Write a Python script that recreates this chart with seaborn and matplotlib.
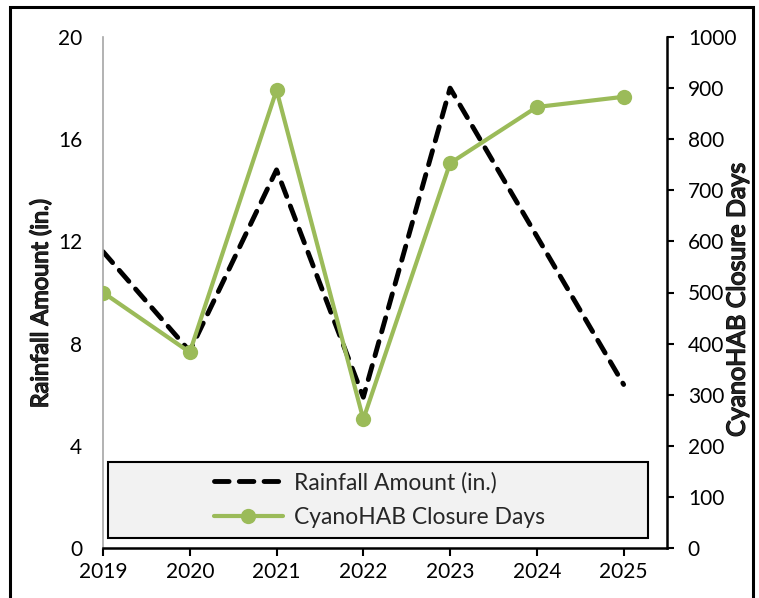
import matplotlib
matplotlib.use("Agg")
import matplotlib.pyplot as plt
import matplotlib.patheffects as pe
from matplotlib.patches import Rectangle
import seaborn as sns
import pandas as pd

# Annual values
years = [2019, 2020, 2021, 2022, 2023, 2024, 2025]
rainfall_in = [11.6, 7.7, 14.8, 5.9, 18.0, 12.2, 6.4]
closure_days = [500, 383, 896, 252, 753, 863, 883]

left_ticks = [0, 4, 8, 12, 16, 20]
right_ticks = list(range(0, 1001, 100))

rain_label = "Rainfall Amount (in.)"
days_label = "CyanoHAB Closure Days"

df = pd.DataFrame({"year": years, "rain": rainfall_in, "days": closure_days})

sns.set_style("white")
plt.rcParams["font.family"] = ["Lato", "DejaVu Sans"]

GREEN = "#9BBB59"
# thicken the axis titles with an outline stroke
heavy = [pe.withStroke(linewidth=1.0, foreground="black")]

fig = plt.figure(figsize=(7.59, 5.98), dpi=100)
ax = fig.add_axes([103 / 759, 1 - 548 / 598, 564 / 759, 511 / 598])
ax2 = ax.twinx()

sns.lineplot(data=df, x="year", y="rain", ax=ax, color="black", linewidth=3.5,
             linestyle=(0, (3.0, 2.1)), dash_capstyle="round", label=rain_label,
             legend=False)
sns.lineplot(data=df, x="year", y="days", ax=ax2, color=GREEN, linewidth=3.0,
             marker="o", markersize=11, markeredgewidth=0, label=days_label,
             legend=False)

ax.set_xlim(2019, 2025.5)
ax.set_ylim(0, 20)
ax2.set_ylim(0, 1000)
ax.set_xticks(years)
ax.set_xticklabels([str(y) for y in years])
ax.set_yticks(left_ticks)
ax2.set_yticks(right_ticks)

# Spines
for s in ["top", "right"]:
    ax.spines[s].set_visible(False)
ax.spines["left"].set_color("#a6a6a6")
ax.spines["left"].set_linewidth(1.2)
ax.spines["bottom"].set_color("black")
ax.spines["bottom"].set_linewidth(1.8)
for s in ["top", "left", "bottom"]:
    ax2.spines[s].set_visible(False)
ax2.spines["right"].set_color("black")
ax2.spines["right"].set_linewidth(1.8)

ax.tick_params(axis="y", length=0, pad=15, labelsize=15, colors="black")
ax.tick_params(axis="x", direction="out", length=6, width=1.5, pad=4,
               labelsize=15, colors="black", bottom=True)
ax2.tick_params(axis="y", direction="out", length=5, width=1.5, pad=10,
                labelsize=15, colors="black", right=True)

ax.set_xlabel("")
ylab_l = ax.set_ylabel(rain_label, fontsize=17)
ylab_r = ax2.set_ylabel(days_label, fontsize=18, rotation=90)
ylab_l.set_path_effects(heavy)
ylab_r.set_path_effects(heavy)
ax.yaxis.set_label_coords(-0.091, 0.478)
ax2.yaxis.set_label_coords(1.104, 0.485)

ax.grid(False)
ax2.grid(False)

# Legend panel
rx0, ry0, rw, rh = 0.009, 0.02, 0.957, 0.148
ax2.add_patch(Rectangle((rx0, ry0), rw, rh, transform=ax2.transAxes,
                        facecolor="#f2f2f2", edgecolor="black", linewidth=1.5,
                        zorder=5))
h1, l1 = ax.get_legend_handles_labels()
h2, l2 = ax2.get_legend_handles_labels()
leg = ax2.legend(h1 + h2, l1 + l2, loc="center",
                 bbox_to_anchor=(rx0 + rw / 2 + 0.003, ry0 + rh / 2),
                 bbox_transform=ax2.transAxes, frameon=False, fontsize=16.5,
                 handlelength=3.0, handletextpad=0.5, labelspacing=0.6,
                 borderpad=0)
leg.set_zorder(6)

# Outer frame
fig.patches.append(Rectangle((10 / 759, -0.05), 743 / 759, 1.05 - 7 / 598,
                             transform=fig.transFigure, fill=False,
                             edgecolor="black", linewidth=2.2))

fig.savefig("out.png", dpi=100)
